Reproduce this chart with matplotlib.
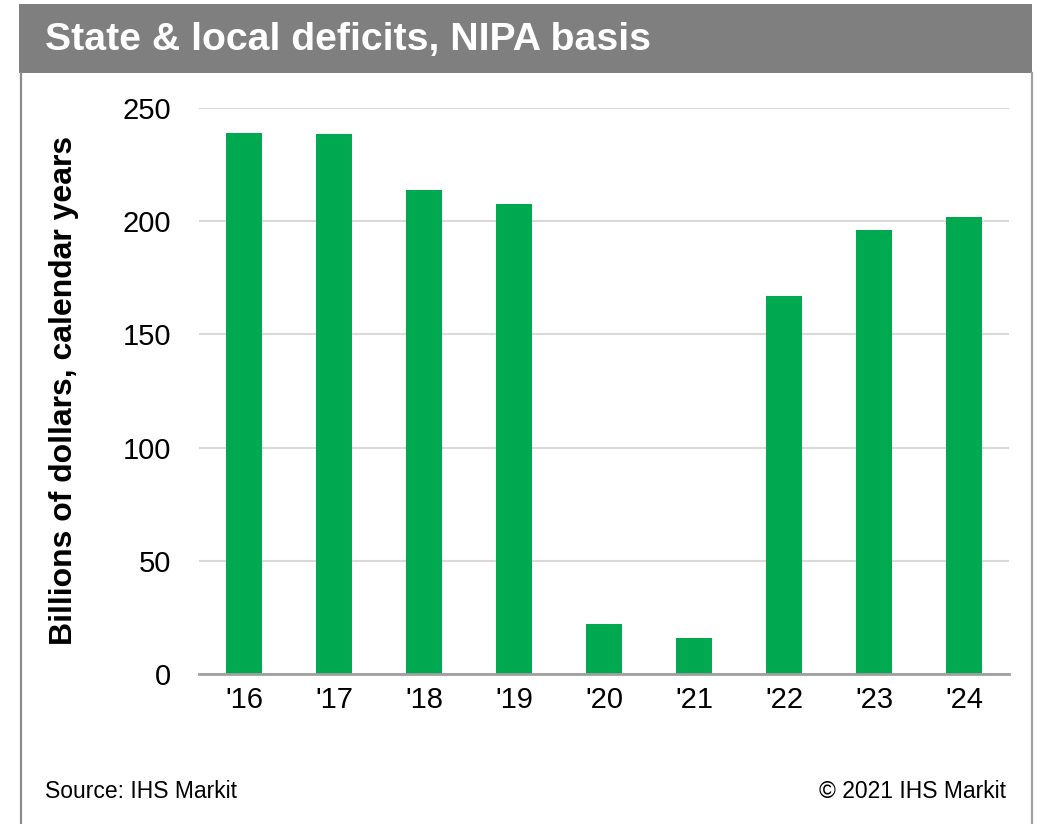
import matplotlib

matplotlib.use("Agg")
import matplotlib.pyplot as plt
from matplotlib.patches import Rectangle

# values (billions of dollars)
years = ["'16", "'17", "'18", "'19", "'20", "'21", "'22", "'23", "'24"]
deficits = [239.1, 238.7, 213.8, 207.6, 22.1, 15.8, 166.8, 196.0, 202.0]
yticks = [0, 50, 100, 150, 200, 250]

GREEN = "#00a94f"
W, H = 1039, 824

plt.rcParams["font.family"] = ["Liberation Sans", "DejaVu Sans"]

fig = plt.figure(figsize=(W / 100, H / 100), dpi=100)

# title band and outer frame
fig.patches.append(Rectangle((19 / W, 1 - 73 / H), (1032 - 19) / W, (73 - 4) / H,
                             transform=fig.transFigure, facecolor="#7f7f7f",
                             edgecolor="none", zorder=0))
fig.add_artist(plt.Line2D([20.5 / W, 20.5 / W], [0, 1 - 73 / H], color="#8c8c8c",
                          lw=1.6, transform=fig.transFigure))
fig.add_artist(plt.Line2D([1031.5 / W, 1031.5 / W], [0, 1 - 73 / H], color="#a0a0a0",
                          lw=1.6, transform=fig.transFigure))
fig.text(45 / W, 1 - 40 / H, "State & local deficits, NIPA basis", color="white",
         fontsize=28.3, fontweight="bold", va="center", ha="left")

ax = fig.add_axes([199 / W, 1 - 674 / H, (1009 - 199) / W, (674 - 108) / H])
x = range(len(years))
ax.bar(x, deficits, width=0.4, color=GREEN, zorder=3)
ax.set_xlim(-0.5, len(years) - 0.5)
ax.set_ylim(0, 250)
ax.set_yticks(yticks)
ax.set_xticks(list(x))
ax.set_xticklabels(years)
ax.grid(axis="y", color="#d9d9d9", lw=1.5, zorder=0)
for side in ["top", "right", "left"]:
    ax.spines[side].set_visible(False)
ax.spines["bottom"].set_color("#a0a0a0")
ax.spines["bottom"].set_linewidth(2)
ax.spines["bottom"].set_zorder(4)
ax.tick_params(axis="y", length=0, pad=20, labelsize=21)
ax.tick_params(axis="x", length=0, pad=9, labelsize=21)

fig.text(64 / W, 1 - 390 / H, "Billions of dollars, calendar years", rotation=90,
         fontsize=23, fontweight="bold", va="center", ha="center")

fig.text(45 / W, 1 - 791 / H, "Source: IHS Markit", fontsize=16.5, va="center", ha="left")
fig.text(1006 / W, 1 - 791 / H, "\u00a9 2021 IHS Markit", fontsize=16.5, va="center",
         ha="right")

fig.savefig("out.png", dpi=100)
